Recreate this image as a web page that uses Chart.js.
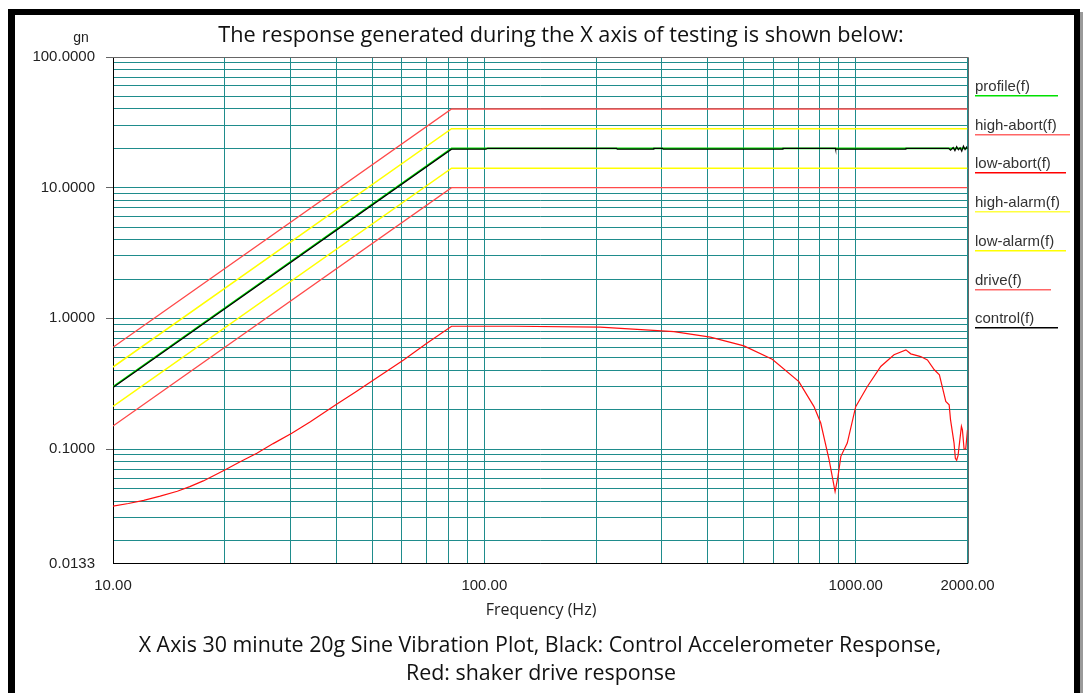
<!DOCTYPE html>
<html>
<head>
<meta charset="utf-8">
<script src="https://cdn.jsdelivr.net/npm/chart.js@4.4.0/dist/chart.umd.min.js"></script>
<style>
html, body { margin: 0; padding: 0; background: #fff; }
#wrap { position: relative; width: 1087px; height: 693px; }
</style>
</head>
<body>
<div id="wrap"><canvas id="sineChart" width="1087" height="693"></canvas></div>
<script>
// profile and limit lines (constant displacement ramp, then flat)
const limitFreq = [10, 81.6, 2000];
const profileG = [0.3, 20, 20];
const highAbortG = [0.6, 40, 40];
const lowAbortG = [0.15, 10, 10];
const highAlarmG = [0.424, 28.3, 28.3];
const lowAlarmG = [0.212, 14.1, 14.1];

// control accelerometer response
const controlFreq = [10, 81.6, 101, 102, 227, 228, 285, 286, 302, 303, 636, 637, 882, 883, 1365, 1366,
    1780, 1800, 1830, 1850, 1870, 1890, 1910, 1930, 1950, 1970, 1990, 2000];
const controlG = [0.296, 19.7, 19.7, 20, 20, 19.7, 19.7, 20, 20, 19.7, 19.7, 20, 20, 19.7, 19.7, 20,
    20, 19.4, 20.3, 19.2, 20.6, 19.5, 20.2, 19.0, 20.8, 19.6, 20.5, 19.8];

// shaker drive
const driveFreq = [10, 11, 12.1, 13.4, 14.9, 16.1, 17.5, 20, 22, 24.4, 27, 30.3, 34, 40.1, 45, 50.3, 60.6, 70,
    81.6, 120, 205, 324, 406, 500, 596, 703, 772, 805, 848, 880, 896, 912, 949, 1000, 1075, 1168, 1268,
    1365, 1407, 1496, 1560, 1628, 1680, 1710, 1748, 1785, 1800, 1840, 1855, 1870, 1886, 1926, 1938,
    1958, 1978, 2000];
const driveG = [0.0366, 0.0383, 0.0405, 0.0436, 0.0475, 0.0515, 0.057, 0.069, 0.08, 0.0927, 0.11, 0.132,
    0.162, 0.221, 0.273, 0.337, 0.48, 0.644, 0.87, 0.87, 0.857, 0.79, 0.718, 0.616, 0.487, 0.328, 0.211,
    0.158, 0.0827, 0.0473, 0.0618, 0.0879, 0.111, 0.211, 0.301, 0.428, 0.526, 0.574, 0.535, 0.51, 0.48,
    0.404, 0.37, 0.30, 0.231, 0.218, 0.168, 0.111, 0.085, 0.082, 0.089, 0.149, 0.14, 0.1, 0.1, 0.14];

// labelled ticks
const xTickValues = [10, 100, 1000, 2000];
const xTickLabels = ['10.00', '100.00', '1000.00', '2000.00'];
const yTickValues = [100, 10, 1, 0.1, 0.0133];
const yTickLabels = ['100.0000', '10.0000', '1.0000', '0.1000', '0.0133'];

const legendNames = ['profile(f)', 'high-abort(f)', 'low-abort(f)', 'high-alarm(f)', 'low-alarm(f)', 'drive(f)', 'control(f)'];
const legendColors = ['#00e000', '#ff6666', '#ff0000', '#ffff40', '#ffff00', '#ff6666', '#000000'];
const legendLineLen = [83, 95, 91, 95, 91, 76, 83];

function pts(xs, ys) {
    return xs.map((x, i) => ({ x: x, y: ys[i] }));
}

// 1..9 x 10^k grid values between min and max
function logGrid(min, max) {
    const out = [];
    for (let e = -2; e <= 3; e++) {
        for (let m = 1; m <= 9; m++) {
            const v = m * Math.pow(10, e);
            if (v > min * 1.0001 && v < max * 0.9999) out.push(v);
        }
    }
    out.push(min, max);
    return out.sort((a, b) => a - b);
}

function findLabel(values, labels, v) {
    for (let i = 0; i < values.length; i++) {
        if (Math.abs(values[i] - v) / values[i] < 1e-6) return labels[i];
    }
    return null;
}

const gridTeal = '#1f8c8c';

const framePlugin = {
    id: 'frame',
    beforeDraw(chart) {
        const c = chart.ctx;
        c.save();
        c.fillStyle = '#fff';
        c.fillRect(0, 0, chart.width, chart.height);
        c.fillStyle = '#000';
        c.fillRect(8, 9, 1072, 6);
        c.fillRect(8, 9, 7, 700);
        c.fillRect(1074, 9, 6, 700);
        c.fillStyle = '#9a9a9a';
        c.fillRect(1080, 12, 3, 700);
        c.restore();
    },
    afterDraw(chart) {
        const c = chart.ctx;
        const a = chart.chartArea;
        c.save();
        c.strokeStyle = '#666';
        c.lineWidth = 1;
        c.beginPath();
        c.moveTo(a.left, Math.round(a.top) + 0.5);
        c.lineTo(Math.round(a.right) + 0.5, Math.round(a.top) + 0.5);
        c.lineTo(Math.round(a.right) + 0.5, a.bottom);
        c.stroke();

        c.fillStyle = '#111';
        c.textAlign = 'center';
        c.textBaseline = 'alphabetic';
        c.font = '21.7px "Open Sans"';
        c.fillText('The response generated during the X axis of testing is shown below:', 561, 42);
        c.font = '21.4px "Open Sans"';
        c.fillText('X Axis 30 minute 20g Sine Vibration Plot, Black: Control Accelerometer Response,', 540, 652);
        c.fillText('Red: shaker drive response', 541, 680);

        c.font = '16px "Open Sans"';
        c.fillStyle = '#222';
        c.fillText('Frequency (Hz)', 541, 615);

        c.font = '14px "Liberation Sans"';
        c.fillText('gn', 81, 42);

        c.textAlign = 'left';
        c.font = '15px "Liberation Sans"';
        legendNames.forEach((name, i) => {
            const base = 91 + i * 38.7;
            c.fillStyle = '#333';
            c.fillText(name, 975, base);
            c.fillStyle = legendColors[i];
            c.fillRect(975, Math.round(base + 4), legendLineLen[i], 1.5);
        });
        c.restore();
    }
};

const ctx = document.getElementById('sineChart').getContext('2d');

new Chart(ctx, {
    type: 'line',
    data: {
        datasets: [
            { label: 'control(f)', data: pts(controlFreq, controlG), borderColor: '#000', borderWidth: 1.2 },
            { label: 'profile(f)', data: pts(limitFreq, profileG), borderColor: '#00e000', borderWidth: 1.6 },
            { label: 'drive(f)', data: pts(driveFreq, driveG), borderColor: '#ff1010', borderWidth: 1.2 },
            { label: 'high-abort(f)', data: pts(limitFreq, highAbortG), borderColor: '#ff4a4a', borderWidth: 1.3 },
            { label: 'low-abort(f)', data: pts(limitFreq, lowAbortG), borderColor: '#ff4a4a', borderWidth: 1.3 },
            { label: 'high-alarm(f)', data: pts(limitFreq, highAlarmG), borderColor: '#ffff00', borderWidth: 1.5 },
            { label: 'low-alarm(f)', data: pts(limitFreq, lowAlarmG), borderColor: '#ffff00', borderWidth: 1.5 }
        ]
    },
    options: {
        responsive: false,
        animation: false,
        layout: { padding: { left: 0, top: 57, right: 119.5, bottom: 99.5 } },
        elements: { point: { radius: 0 }, line: { tension: 0 } },
        plugins: {
            legend: { display: false },
            tooltip: { enabled: false }
        },
        scales: {
            x: {
                type: 'logarithmic',
                min: 10,
                max: 2000,
                afterBuildTicks: s => { s.ticks = logGrid(10, 2000).map(v => ({ value: v })); },
                afterFit: s => { s.height = 30; },
                ticks: {
                    autoSkip: false,
                    maxRotation: 0,
                    padding: 13,
                    color: '#222',
                    font: { family: 'Liberation Sans', size: 15 },
                    callback: v => findLabel(xTickValues, xTickLabels, v) || ''
                },
                grid: { color: gridTeal, lineWidth: 1, drawTicks: false },
                border: { color: '#000', width: 1 }
            },
            y: {
                type: 'logarithmic',
                min: 0.0133,
                max: 100,
                afterBuildTicks: s => { s.ticks = logGrid(0.0133, 100).map(v => ({ value: v })); },
                afterFit: s => { s.width = 113; },
                ticks: {
                    autoSkip: false,
                    padding: 11,
                    color: '#222',
                    font: { family: 'Liberation Sans', size: 15 },
                    callback: v => findLabel(yTickValues, yTickLabels, v) || ''
                },
                grid: {
                    color: gridTeal,
                    lineWidth: 1,
                    tickLength: 7,
                    tickColor: c => {
                        const v = c.tick ? c.tick.value : 0;
                        return (findLabel(yTickValues, yTickLabels, v) && v !== 0.0133) ? '#666' : 'rgba(0,0,0,0)';
                    }
                },
                border: { color: '#000', width: 1 }
            }
        }
    },
    plugins: [framePlugin]
});
</script>
</body>
</html>
